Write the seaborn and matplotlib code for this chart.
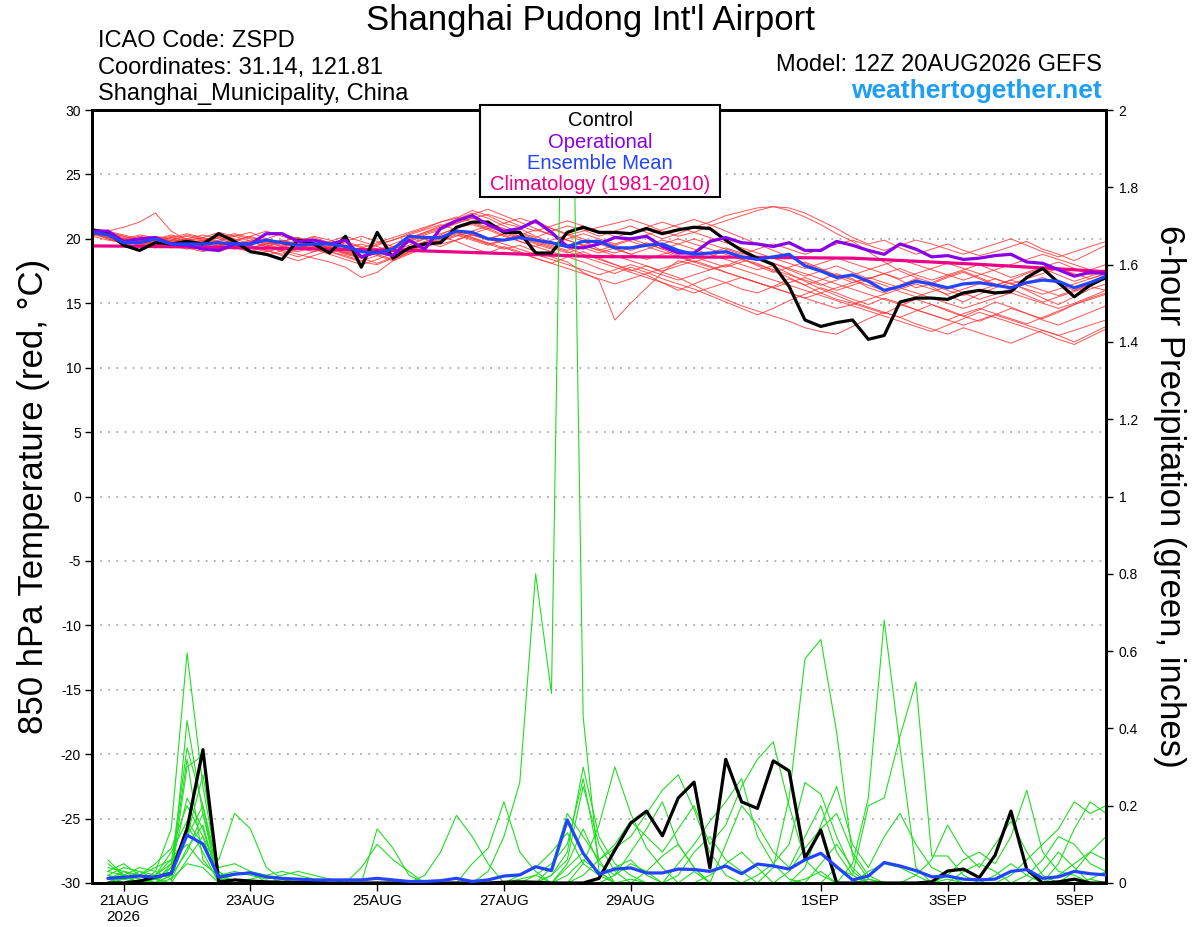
import numpy as np
import pandas as pd
import matplotlib
matplotlib.use('Agg')
import matplotlib.pyplot as plt
from matplotlib.patches import Rectangle
import seaborn as sns

# forecast steps (6-hourly from the 12Z 20AUG2026 run)
times = pd.date_range('2026-08-20 12:00', periods=65, freq='6h')
precip_times = times[1:]

# 850 hPa temperature (C)
control_t = [20.7, 20.5, 19.5, 19.1, 19.7, 19.6, 19.8, 19.6, 20.4, 19.8,
             19.0, 18.8, 18.4, 19.9, 19.6, 18.9, 20.2, 17.8, 20.5, 18.5,
             19.3, 19.6, 19.7, 20.9, 21.3, 21.3, 20.5, 20.5, 18.9, 18.9,
             20.5, 20.9, 20.5, 20.5, 20.4, 20.8, 20.4, 20.7, 20.9, 20.8,
             19.9, 19.1, 18.5, 18.0, 16.3, 13.7, 13.2, 13.5, 13.7, 12.2,
             12.5, 15.1, 15.4, 15.4, 15.3, 15.8, 16.0, 15.8, 15.9, 17.0,
             17.7, 16.6, 15.5, 16.4, 17.0]
operational_t = [20.6, 20.6, 19.8, 20.0, 20.1, 19.6, 19.5, 19.2, 19.1, 19.6,
                 19.6, 20.4, 20.4, 19.8, 19.9, 19.6, 19.9, 18.6, 19.0, 18.7,
                 19.9, 19.2, 20.8, 21.4, 21.8, 21.1, 20.6, 20.8, 21.4, 20.5,
                 19.4, 19.3, 19.6, 20.1, 20.0, 20.2, 19.4, 18.9, 18.9, 19.8,
                 20.1, 19.7, 19.6, 19.4, 19.7, 19.1, 19.1, 19.8, 19.5, 19.1,
                 18.8, 19.6, 19.2, 18.6, 18.7, 18.4, 18.5, 18.7, 18.8, 18.2,
                 18.1, 17.6, 17.1, 17.4, 17.3]
mean_t = [20.5, 20.3, 19.7, 19.7, 20.0, 19.6, 19.6, 19.6, 19.7, 19.6,
          19.6, 19.9, 19.7, 19.5, 19.6, 19.6, 19.4, 19.0, 18.9, 19.2,
          20.2, 20.1, 20.1, 20.6, 20.5, 20.0, 19.9, 20.1, 19.9, 19.7,
          19.4, 19.8, 19.8, 19.3, 19.3, 19.5, 19.6, 19.1, 18.8, 18.9,
          19.0, 18.6, 18.4, 18.6, 18.8, 17.9, 17.5, 17.0, 17.2, 16.7,
          16.0, 16.3, 16.7, 16.5, 16.2, 16.5, 16.6, 16.4, 16.2, 16.6,
          16.8, 16.7, 16.2, 16.6, 17.1]
climo_t = [19.45, 19.44, 19.43, 19.42, 19.40, 19.39, 19.37, 19.36, 19.34, 19.32,
           19.30, 19.28, 19.26, 19.24, 19.22, 19.20, 19.18, 19.16, 19.14, 19.12,
           19.10, 19.06, 19.02, 18.98, 18.94, 18.90, 18.86, 18.82, 18.78, 18.74,
           18.70, 18.66, 18.62, 18.61, 18.61, 18.60, 18.60, 18.59, 18.59, 18.58,
           18.58, 18.57, 18.56, 18.55, 18.54, 18.53, 18.52, 18.51, 18.50, 18.44,
           18.38, 18.32, 18.26, 18.20, 18.14, 18.08, 18.02, 17.95, 17.88, 17.81,
           17.74, 17.67, 17.60, 17.52, 17.45]

# 6-hour precipitation (inches)
control_p = [0.0, 0.0, 0.005, 0.015, 0.025, 0.14, 0.345, 0.003, 0.008, 0.005,
             0.003, 0.002, 0.002, 0.001, 0.0, 0.0, 0.0, 0.0, 0.0, 0.0,
             0.0, 0.0, 0.0, 0.0, 0.0, 0.002, 0.003, 0.002, 0.0, 0.0,
             0.0, 0.012, 0.085, 0.155, 0.186, 0.122, 0.22, 0.261, 0.039, 0.32,
             0.21, 0.193, 0.316, 0.29, 0.064, 0.137, 0.0, 0.0, 0.0, 0.0,
             0.0, 0.0, 0.003, 0.031, 0.036, 0.014, 0.072, 0.186, 0.035, 0.0,
             0.003, 0.01, 0.0, 0.0]
mean_p = [0.012, 0.015, 0.018, 0.015, 0.025, 0.124, 0.101, 0.015, 0.023, 0.026,
          0.016, 0.012, 0.01, 0.008, 0.008, 0.008, 0.008, 0.012, 0.008, 0.004,
          0.004, 0.006, 0.012, 0.004, 0.008, 0.018, 0.021, 0.042, 0.032, 0.163,
          0.077, 0.023, 0.036, 0.039, 0.026, 0.026, 0.036, 0.035, 0.03, 0.044,
          0.024, 0.049, 0.044, 0.036, 0.06, 0.077, 0.042, 0.008, 0.018, 0.053,
          0.044, 0.032, 0.016, 0.018, 0.01, 0.008, 0.01, 0.03, 0.035, 0.012,
          0.016, 0.03, 0.024, 0.021]

# ensemble members, temperature
red_members = [
    [20.5, 20.3, 20.0, 19.8, 20.1, 19.9, 19.7, 19.9, 20.2, 20.0, 19.6, 19.8, 19.5, 19.9, 20.1, 19.7, 19.4,
     19.0, 19.6, 19.9, 20.4, 20.8, 21.3, 21.6, 22.2, 21.8, 21.2, 20.9, 21.4, 20.8, 20.3, 20.6, 20.9,
     21.2, 21.5, 21.1, 20.6, 20.2, 20.5, 21.0, 21.4, 21.8, 22.2, 22.5, 22.4, 22.0, 21.4, 20.8, 20.1,
     19.6, 19.9, 19.3, 18.8, 19.2, 19.6, 19.1, 18.7, 19.0, 19.4, 19.8, 19.2, 18.8, 18.3, 18.9, 19.5],
    [20.6, 20.4, 20.1, 19.7, 19.5, 19.8, 20.0, 19.6, 19.3, 19.5, 19.9, 19.6, 19.2, 19.0, 19.4, 19.6, 19.1,
     18.6, 18.9, 19.3, 19.8, 20.2, 20.0, 20.5, 20.1, 19.6, 19.2, 19.5, 19.0, 18.6, 18.2, 17.4, 16.8,
     13.7, 15.0, 16.2, 17.4, 18.3, 18.0, 17.6, 17.9, 18.4, 18.1, 17.5, 17.0, 16.4, 16.8, 17.3, 16.9,
     16.2, 15.8, 16.4, 16.9, 16.3, 15.6, 15.1, 15.7, 16.2, 16.6, 16.0, 15.4, 14.9, 15.5, 16.1, 16.5],
    [20.4, 20.6, 20.9, 21.3, 22.0, 20.6, 19.9, 20.1, 19.8, 20.2, 20.5, 20.0, 19.6, 19.3, 19.7, 19.2, 18.8,
     18.5, 18.9, 19.4, 19.2, 19.7, 20.3, 20.9, 21.1, 20.7, 20.2, 19.8, 19.4, 19.9, 20.3, 19.8, 19.2,
     18.9, 19.3, 19.7, 19.2, 18.7, 18.2, 18.6, 19.1, 18.5, 17.9, 17.4, 17.8, 18.2, 17.7, 17.1, 16.6,
     16.9, 17.3, 16.8, 16.2, 16.5, 17.0, 17.4, 16.9, 16.4, 16.8, 17.3, 17.7, 17.2, 16.7, 17.1, 17.5],
    [20.7, 20.2, 19.8, 19.6, 19.9, 20.2, 19.8, 19.5, 19.9, 20.3, 20.0, 19.5, 19.1, 18.8, 18.5, 18.2, 17.8,
     17.0, 17.4, 18.3, 19.0, 19.6, 20.1, 20.6, 20.3, 19.9, 20.4, 20.8, 20.2, 19.7, 19.3, 18.8, 18.4,
     18.0, 17.6, 17.2, 16.6, 16.0, 16.5, 17.0, 16.6, 16.1, 15.8, 16.3, 16.9, 16.4, 15.8, 15.3, 15.0,
     14.6, 14.2, 14.8, 15.3, 14.9, 14.4, 14.0, 14.5, 15.1, 14.7, 14.2, 13.8, 14.3, 14.9, 15.4, 15.8],
    [20.3, 20.1, 19.9, 20.2, 20.0, 19.7, 19.4, 19.8, 20.1, 19.7, 19.3, 19.6, 19.9, 19.5, 19.2, 19.5, 19.8,
     19.4, 18.9, 19.3, 19.9, 20.5, 21.0, 21.5, 22.0, 21.6, 21.0, 20.5, 20.1, 20.6, 21.0, 20.7, 20.2,
     20.6, 21.0, 20.5, 20.0, 20.4, 20.9, 21.3, 21.8, 22.1, 22.4, 22.5, 22.2, 21.7, 21.1, 20.4, 19.8,
     19.0, 18.2, 17.5, 17.0, 16.6, 17.1, 17.5, 17.0, 16.5, 16.1, 16.6, 17.0, 16.5, 16.0, 16.4, 16.9],
    [20.5, 20.0, 19.6, 19.4, 19.7, 19.5, 19.2, 19.4, 19.8, 19.4, 19.0, 18.7, 19.1, 19.5, 19.2, 18.9, 19.3,
     19.6, 19.2, 18.8, 19.3, 19.8, 20.2, 19.8, 19.3, 18.9, 19.4, 19.0, 18.5, 18.1, 18.6, 18.2, 17.7,
     17.3, 17.8, 17.4, 16.9, 16.5, 16.1, 15.6, 15.1, 14.6, 14.1, 14.6, 15.2, 15.7, 16.2, 15.8, 15.3,
     14.9, 15.4, 15.0, 14.5, 14.1, 13.7, 14.2, 14.6, 14.2, 13.8, 13.4, 13.9, 14.4, 14.9, 15.3, 15.7],
    [20.6, 20.5, 20.2, 19.9, 19.6, 19.9, 20.3, 20.0, 19.6, 19.9, 20.2, 19.8, 19.4, 19.7, 19.3, 19.0, 18.7,
     18.3, 18.7, 19.2, 19.7, 20.0, 19.6, 19.9, 20.4, 20.8, 20.3, 19.8, 19.4, 19.0, 18.6, 19.0, 18.5,
     18.0, 17.5, 17.9, 17.4, 17.0, 16.4, 15.8, 15.3, 14.8, 14.4, 14.0, 13.6, 13.1, 12.8, 12.6, 13.2,
     13.8, 14.3, 13.9, 13.4, 13.0, 12.6, 13.1, 12.7, 12.3, 11.9, 12.4, 12.9, 12.5, 12.0, 12.6, 13.2],
    [20.4, 20.3, 20.0, 20.3, 20.1, 19.8, 19.5, 19.8, 20.1, 20.4, 20.1, 19.7, 19.4, 19.8, 20.2, 19.9, 19.5,
     19.1, 19.5, 19.9, 20.3, 20.7, 21.1, 20.7, 20.3, 20.0, 20.4, 20.0, 19.6, 19.2, 19.6, 19.3, 18.9,
     19.3, 18.8, 18.4, 18.8, 19.1, 18.6, 18.2, 17.8, 18.2, 18.6, 18.1, 17.6, 17.1, 17.5, 17.9, 17.4,
     16.9, 17.3, 17.7, 17.2, 16.8, 17.2, 17.6, 18.0, 17.5, 17.0, 17.4, 17.8, 18.2, 17.7, 17.2, 17.6],
    [20.8, 20.4, 19.9, 19.5, 19.3, 19.6, 19.9, 19.5, 19.2, 19.6, 19.3, 19.0, 19.3, 19.7, 19.4, 19.0, 18.6,
     18.2, 18.0, 18.5, 19.0, 19.5, 20.0, 20.4, 20.0, 19.6, 19.9, 20.3, 19.9, 19.5, 19.1, 19.5, 19.9,
     19.5, 19.1, 19.5, 19.9, 19.6, 19.2, 18.8, 18.4, 18.0, 17.6, 17.9, 17.3, 16.7, 16.1, 15.6, 15.1,
     14.7, 14.3, 13.9, 14.4, 14.9, 14.5, 14.0, 13.6, 14.1, 14.6, 14.2, 13.7, 13.3, 13.8, 14.3, 14.8],
    [20.5, 20.6, 20.3, 20.0, 19.8, 20.1, 20.4, 20.1, 19.7, 19.4, 19.7, 20.0, 19.7, 19.3, 19.0, 19.4, 19.8,
     20.2, 19.8, 19.4, 19.8, 20.3, 20.7, 21.2, 21.6, 21.2, 20.8, 20.4, 20.0, 19.6, 20.0, 20.4, 20.0,
     19.6, 20.0, 19.6, 19.2, 19.6, 20.0, 19.6, 19.2, 18.8, 19.2, 19.6, 19.2, 18.8, 19.2, 19.6, 19.9,
     19.5, 19.1, 19.5, 19.9, 19.6, 19.2, 18.8, 19.2, 19.6, 20.0, 19.5, 19.0, 18.6, 19.0, 19.4, 19.8],
    [20.2, 19.9, 19.7, 19.9, 20.2, 20.0, 19.7, 19.3, 19.5, 19.8, 19.5, 19.1, 18.8, 19.2, 19.6, 19.3, 18.9,
     18.6, 19.1, 19.6, 20.1, 20.5, 20.9, 21.4, 21.9, 22.3, 21.8, 21.3, 20.8, 20.3, 19.9, 19.5, 19.1,
     18.7, 18.3, 17.9, 17.5, 17.9, 18.3, 17.9, 17.4, 17.0, 16.6, 16.2, 16.6, 17.0, 16.5, 16.0, 16.4,
     16.8, 16.4, 15.9, 15.5, 15.9, 16.3, 15.8, 15.3, 15.7, 16.1, 15.6, 15.1, 15.5, 15.9, 16.3, 16.0],
    [20.6, 20.3, 19.9, 20.1, 19.8, 19.5, 19.8, 20.1, 20.5, 20.2, 19.8, 19.4, 19.8, 20.1, 19.7, 19.3, 19.7,
     19.3, 18.8, 18.4, 18.9, 19.4, 19.9, 20.3, 19.9, 19.5, 19.9, 20.3, 20.7, 20.3, 19.9, 19.5, 19.1,
     19.5, 19.9, 20.3, 20.7, 21.1, 21.5, 21.1, 20.6, 20.1, 19.6, 19.1, 18.6, 18.1, 17.6, 17.2, 16.8,
     16.4, 16.0, 16.4, 16.8, 16.4, 16.0, 15.6, 16.0, 16.4, 16.8, 16.4, 16.0, 15.6, 16.0, 16.5, 17.0],
    [20.4, 20.2, 19.8, 19.6, 19.4, 19.7, 20.0, 20.3, 20.0, 19.6, 19.3, 19.6, 19.9, 19.6, 19.2, 18.8, 18.4,
     18.0, 18.4, 18.9, 19.3, 19.7, 19.4, 19.9, 20.3, 20.0, 19.6, 19.2, 18.8, 18.4, 18.0, 17.6, 17.2,
     17.6, 18.0, 17.6, 17.2, 16.8, 17.2, 17.6, 18.0, 17.6, 17.2, 16.8, 16.4, 16.0, 15.6, 15.2, 14.8,
     14.4, 14.0, 13.6, 13.2, 12.8, 13.3, 13.8, 14.3, 13.9, 13.5, 13.1, 12.7, 12.2, 11.8, 12.4, 13.0],
    [20.5, 20.1, 19.6, 19.8, 20.0, 20.3, 20.0, 19.7, 19.4, 19.8, 20.2, 20.6, 20.2, 19.8, 19.4, 19.8, 20.2,
     19.8, 19.4, 19.0, 19.5, 20.0, 20.4, 20.8, 21.2, 20.8, 21.2, 21.6, 21.2, 20.8, 20.4, 20.0, 19.6,
     19.2, 18.8, 19.2, 19.6, 20.0, 19.6, 19.2, 18.8, 18.4, 18.0, 17.6, 17.2, 16.8, 16.4, 16.8, 17.2,
     17.6, 18.0, 18.4, 18.0, 17.6, 17.2, 16.8, 17.2, 17.6, 18.0, 18.4, 18.8, 18.4, 18.0, 17.6, 18.0],
    [20.7, 20.3, 20.0, 19.7, 19.9, 19.6, 19.3, 19.0, 19.4, 19.8, 19.5, 19.1, 18.7, 18.3, 18.7, 19.1, 19.5,
     19.1, 18.7, 18.3, 18.8, 19.3, 19.8, 20.2, 20.6, 21.0, 20.6, 20.2, 19.8, 19.4, 19.0, 18.6, 18.2,
     17.8, 17.4, 17.0, 16.6, 16.2, 15.8, 16.2, 16.6, 17.0, 16.6, 16.2, 15.8, 15.4, 15.8, 16.2, 16.6,
     17.0, 16.6, 16.2, 15.8, 15.4, 15.0, 14.6, 15.0, 15.4, 15.8, 15.4, 15.0, 14.6, 15.0, 15.5, 16.0],
    [20.3, 20.5, 20.2, 19.8, 19.5, 19.9, 20.2, 19.9, 19.5, 19.2, 19.6, 20.0, 20.4, 20.0, 19.6, 19.2, 18.9,
     19.3, 19.7, 20.1, 20.5, 20.9, 21.3, 21.7, 21.3, 20.9, 20.5, 20.1, 19.7, 19.3, 18.9, 19.3, 19.7,
     20.1, 20.5, 20.9, 21.3, 20.9, 20.5, 20.1, 19.7, 19.3, 18.9, 18.5, 18.1, 17.7, 18.1, 18.5, 18.1,
     17.7, 17.3, 16.9, 17.3, 17.7, 18.1, 17.7, 17.3, 16.9, 16.5, 16.9, 17.3, 17.7, 17.3, 16.9, 17.3],
    [20.6, 20.2, 19.8, 19.5, 19.8, 20.1, 19.8, 19.4, 19.0, 19.4, 19.8, 19.4, 19.0, 18.6, 19.0, 19.4, 19.0,
     18.6, 19.0, 19.4, 19.9, 20.4, 20.8, 21.2, 21.6, 21.9, 21.5, 21.0, 20.6, 21.0, 21.4, 21.0, 20.6,
     20.2, 19.8, 19.4, 19.0, 18.6, 18.2, 17.8, 17.4, 17.0, 16.6, 16.2, 15.8, 15.4, 15.0, 14.6, 14.9,
     15.3, 15.7, 16.1, 16.5, 16.1, 15.7, 16.1, 16.5, 16.9, 16.5, 16.1, 15.7, 16.1, 16.5, 16.9, 17.3],
    [20.4, 20.0, 19.7, 19.9, 19.6, 19.3, 19.6, 19.9, 19.6, 19.3, 19.0, 19.4, 19.8, 20.1, 19.7, 19.3, 18.9,
     18.5, 18.1, 18.6, 19.1, 19.6, 20.1, 20.5, 20.1, 19.7, 19.3, 18.9, 18.5, 18.1, 17.7, 17.3, 16.9,
     16.5, 16.9, 17.3, 17.7, 18.1, 18.5, 18.9, 19.3, 18.9, 18.5, 18.1, 17.7, 17.3, 16.9, 16.5, 16.1,
     15.7, 15.3, 14.9, 14.5, 14.1, 13.7, 13.3, 13.7, 14.1, 13.7, 13.3, 12.9, 12.5, 12.9, 13.3, 13.7],
]

# ensemble members, precipitation
green_members = [
    [0.02, 0.01, 0.0, 0.03, 0.14, 0.595, 0.25, 0.02, 0.0, 0.0,
     0.0, 0.01, 0.0, 0.0, 0.0, 0.0, 0.0, 0.0, 0.0, 0.0,
     0.0, 0.0, 0.0, 0.0, 0.0, 0.0, 0.01, 0.02, 0.0, 0.0,
     0.0, 0.0, 0.02, 0.05, 0.03, 0.0, 0.02, 0.08, 0.12, 0.06,
     0.03, 0.0, 0.04, 0.22, 0.58, 0.63, 0.39, 0.07, 0.01, 0.0,
     0.0, 0.0, 0.0, 0.01, 0.0, 0.0, 0.02, 0.05, 0.02, 0.0,
     0.0, 0.0, 0.01, 0.0],
    [0.01, 0.0, 0.0, 0.0, 0.02, 0.3, 0.33, 0.01, 0.0, 0.0,
     0.0, 0.0, 0.0, 0.0, 0.0, 0.0, 0.0, 0.0, 0.0, 0.0,
     0.0, 0.0, 0.0, 0.0, 0.03, 0.12, 0.26, 0.80, 0.49, 3.0,
     0.43, 0.03, 0.0, 0.01, 0.0, 0.0, 0.0, 0.0, 0.02, 0.05,
     0.08, 0.04, 0.0, 0.0, 0.0, 0.0, 0.0, 0.0, 0.01, 0.0,
     0.0, 0.0, 0.0, 0.0, 0.0, 0.0, 0.0, 0.0, 0.0, 0.03,
     0.08, 0.04, 0.0, 0.0],
    [0.0, 0.03, 0.02, 0.0, 0.05, 0.12, 0.2, 0.03, 0.0, 0.01,
     0.02, 0.0, 0.0, 0.0, 0.01, 0.0, 0.0, 0.0, 0.0, 0.0,
     0.0, 0.0, 0.0, 0.0, 0.0, 0.0, 0.0, 0.02, 0.05, 0.1,
     0.27, 0.06, 0.0, 0.0, 0.03, 0.07, 0.1, 0.04, 0.0, 0.0,
     0.0, 0.0, 0.0, 0.0, 0.01, 0.03, 0.0, 0.05, 0.22, 0.68,
     0.35, 0.04, 0.0, 0.0, 0.0, 0.0, 0.0, 0.0, 0.0, 0.0,
     0.0, 0.0, 0.01, 0.03],
    [0.05, 0.02, 0.01, 0.0, 0.04, 0.22, 0.14, 0.01, 0.02, 0.03,
     0.0, 0.0, 0.0, 0.0, 0.0, 0.0, 0.0, 0.14, 0.09, 0.02,
     0.0, 0.0, 0.0, 0.0, 0.0, 0.0, 0.0, 0.0, 0.0, 0.04,
     0.08, 0.02, 0.0, 0.0, 0.0, 0.0, 0.0, 0.03, 0.0, 0.0,
     0.0, 0.0, 0.0, 0.0, 0.0, 0.0, 0.04, 0.02, 0.2, 0.22,
     0.38, 0.52, 0.07, 0.07, 0.02, 0.0, 0.0, 0.0, 0.0, 0.0,
     0.02, 0.05, 0.08, 0.12],
    [0.03, 0.02, 0.0, 0.01, 0.0, 0.42, 0.18, 0.0, 0.0, 0.0,
     0.0, 0.0, 0.0, 0.0, 0.0, 0.0, 0.0, 0.0, 0.0, 0.0,
     0.0, 0.0, 0.0, 0.0, 0.0, 0.0, 0.0, 0.0, 0.04, 0.18,
     0.12, 0.06, 0.1, 0.16, 0.12, 0.08, 0.14, 0.2, 0.1, 0.15,
     0.25, 0.32, 0.365, 0.2, 0.06, 0.02, 0.0, 0.0, 0.0, 0.0,
     0.0, 0.0, 0.0, 0.0, 0.0, 0.0, 0.0, 0.0, 0.0, 0.0,
     0.0, 0.0, 0.0, 0.0],
    [0.01, 0.03, 0.02, 0.04, 0.06, 0.1, 0.05, 0.02, 0.03, 0.02,
     0.01, 0.02, 0.03, 0.02, 0.01, 0.0, 0.0, 0.0, 0.0, 0.0,
     0.02, 0.08, 0.175, 0.12, 0.05, 0.0, 0.0, 0.0, 0.0, 0.0,
     0.0, 0.0, 0.0, 0.0, 0.0, 0.0, 0.0, 0.0, 0.0, 0.0,
     0.0, 0.0, 0.0, 0.0, 0.0, 0.0, 0.0, 0.0, 0.0, 0.0,
     0.0, 0.0, 0.0, 0.02, 0.06, 0.08, 0.05, 0.12, 0.24, 0.08,
     0.03, 0.02, 0.0, 0.0],
    [0.0, 0.01, 0.02, 0.01, 0.03, 0.15, 0.08, 0.0, 0.0, 0.0,
     0.0, 0.0, 0.0, 0.0, 0.0, 0.0, 0.0, 0.0, 0.0, 0.0,
     0.0, 0.0, 0.0, 0.05, 0.09, 0.21, 0.08, 0.03, 0.0, 0.0,
     0.05, 0.15, 0.30, 0.18, 0.09, 0.04, 0.0, 0.0, 0.0, 0.0,
     0.0, 0.0, 0.0, 0.0, 0.0, 0.0, 0.0, 0.0, 0.0, 0.0,
     0.0, 0.0, 0.0, 0.0, 0.0, 0.0, 0.0, 0.0, 0.0, 0.0,
     0.05, 0.14, 0.21, 0.18],
    [0.02, 0.0, 0.0, 0.02, 0.08, 0.16, 0.1, 0.06, 0.18, 0.14,
     0.04, 0.01, 0.0, 0.0, 0.0, 0.0, 0.0, 0.0, 0.0, 0.0,
     0.0, 0.0, 0.0, 0.0, 0.0, 0.0, 0.0, 0.0, 0.0, 0.0,
     0.02, 0.06, 0.09, 0.12, 0.18, 0.24, 0.28, 0.19, 0.08, 0.02,
     0.0, 0.0, 0.0, 0.03, 0.09, 0.14, 0.18, 0.08, 0.02, 0.0,
     0.0, 0.0, 0.0, 0.0, 0.0, 0.0, 0.0, 0.0, 0.0, 0.0,
     0.0, 0.0, 0.0, 0.0],
    [0.04, 0.03, 0.01, 0.0, 0.01, 0.05, 0.04, 0.0, 0.0, 0.0,
     0.0, 0.0, 0.0, 0.0, 0.0, 0.0, 0.04, 0.1, 0.06, 0.03,
     0.0, 0.0, 0.0, 0.0, 0.0, 0.0, 0.0, 0.0, 0.0, 0.0,
     0.0, 0.0, 0.0, 0.0, 0.0, 0.0, 0.05, 0.1, 0.16, 0.21,
     0.27, 0.12, 0.05, 0.01, 0.0, 0.0, 0.0, 0.0, 0.0, 0.0,
     0.0, 0.0, 0.0, 0.0, 0.0, 0.0, 0.0, 0.0, 0.0, 0.0,
     0.0, 0.0, 0.0, 0.0],
    [0.01, 0.01, 0.03, 0.02, 0.06, 0.12, 0.28, 0.03, 0.0, 0.0,
     0.0, 0.0, 0.0, 0.0, 0.0, 0.0, 0.0, 0.0, 0.0, 0.0,
     0.0, 0.0, 0.0, 0.0, 0.0, 0.0, 0.0, 0.0, 0.0, 0.0,
     0.0, 0.0, 0.0, 0.0, 0.0, 0.0, 0.0, 0.0, 0.0, 0.0,
     0.0, 0.02, 0.05, 0.1, 0.26, 0.23, 0.12, 0.03, 0.0, 0.0,
     0.0, 0.0, 0.0, 0.0, 0.0, 0.0, 0.0, 0.02, 0.06, 0.1,
     0.14, 0.21, 0.18, 0.2],
    [0.0, 0.0, 0.02, 0.05, 0.09, 0.2, 0.12, 0.0, 0.0, 0.0,
     0.0, 0.0, 0.0, 0.0, 0.0, 0.0, 0.0, 0.0, 0.0, 0.0,
     0.0, 0.0, 0.0, 0.0, 0.0, 0.0, 0.0, 0.0, 0.0, 0.02,
     0.06, 0.03, 0.0, 0.0, 0.0, 0.0, 0.0, 0.0, 0.0, 0.0,
     0.0, 0.0, 0.0, 0.0, 0.04, 0.15, 0.25, 0.1, 0.04, 0.12,
     0.18, 0.1, 0.04, 0.02, 0.0, 0.0, 0.0, 0.0, 0.0, 0.0,
     0.0, 0.0, 0.0, 0.0],
    [0.02, 0.04, 0.03, 0.01, 0.04, 0.32, 0.06, 0.01, 0.0, 0.0,
     0.0, 0.0, 0.0, 0.0, 0.0, 0.0, 0.0, 0.0, 0.0, 0.0,
     0.0, 0.0, 0.0, 0.0, 0.0, 0.0, 0.0, 0.0, 0.0, 0.0,
     0.0, 0.0, 0.0, 0.0, 0.0, 0.0, 0.0, 0.0, 0.0, 0.0,
     0.0, 0.0, 0.0, 0.0, 0.0, 0.0, 0.0, 0.0, 0.0, 0.0,
     0.0, 0.02, 0.06, 0.15, 0.08, 0.04, 0.1, 0.16, 0.08, 0.02,
     0.0, 0.03, 0.08, 0.06],
    [0.0, 0.0, 0.0, 0.0, 0.02, 0.08, 0.18, 0.02, 0.0, 0.0,
     0.0, 0.0, 0.0, 0.0, 0.0, 0.0, 0.0, 0.0, 0.0, 0.0,
     0.0, 0.0, 0.0, 0.0, 0.0, 0.0, 0.0, 0.0, 0.0, 0.05,
     0.14, 0.05, 0.02, 0.08, 0.14, 0.21, 0.1, 0.04, 0.0, 0.1,
     0.2, 0.15, 0.08, 0.04, 0.12, 0.2, 0.08, 0.02, 0.0, 0.0,
     0.0, 0.0, 0.0, 0.0, 0.0, 0.0, 0.0, 0.0, 0.0, 0.0,
     0.0, 0.0, 0.0, 0.0],
    [0.03, 0.05, 0.02, 0.0, 0.0, 0.06, 0.12, 0.04, 0.05, 0.03,
     0.02, 0.03, 0.02, 0.01, 0.0, 0.0, 0.0, 0.0, 0.0, 0.0,
     0.0, 0.0, 0.0, 0.0, 0.0, 0.0, 0.02, 0.04, 0.08, 0.13,
     0.05, 0.02, 0.04, 0.06, 0.02, 0.0, 0.0, 0.0, 0.0, 0.0,
     0.0, 0.0, 0.0, 0.0, 0.0, 0.0, 0.0, 0.0, 0.03, 0.05,
     0.04, 0.02, 0.0, 0.0, 0.0, 0.0, 0.0, 0.0, 0.02, 0.06,
     0.12, 0.1, 0.05, 0.03],
    [0.06, 0.02, 0.04, 0.03, 0.01, 0.09, 0.15, 0.0, 0.0, 0.0,
     0.0, 0.0, 0.0, 0.0, 0.0, 0.0, 0.0, 0.0, 0.0, 0.0,
     0.0, 0.0, 0.0, 0.0, 0.0, 0.0, 0.0, 0.0, 0.02, 0.06,
     0.25, 0.1, 0.03, 0.0, 0.0, 0.0, 0.0, 0.0, 0.0, 0.0,
     0.0, 0.0, 0.0, 0.0, 0.0, 0.05, 0.1, 0.04, 0.0, 0.0,
     0.0, 0.0, 0.0, 0.0, 0.0, 0.0, 0.0, 0.0, 0.0, 0.0,
     0.0, 0.0, 0.0, 0.0],
    [0.01, 0.02, 0.0, 0.02, 0.05, 0.35, 0.2, 0.01, 0.0, 0.0,
     0.0, 0.0, 0.0, 0.0, 0.0, 0.0, 0.0, 0.0, 0.0, 0.0,
     0.0, 0.0, 0.0, 0.0, 0.0, 0.0, 0.0, 0.0, 0.02, 0.08,
     0.3, 0.12, 0.05, 0.02, 0.0, 0.0, 0.0, 0.0, 0.0, 0.0,
     0.0, 0.0, 0.0, 0.0, 0.0, 0.0, 0.0, 0.0, 0.0, 0.0,
     0.0, 0.0, 0.0, 0.0, 0.03, 0.05, 0.03, 0.0, 0.0, 0.0,
     0.0, 0.0, 0.0, 0.0],
]

tick_dates = ['2026-08-21', '2026-08-23', '2026-08-25', '2026-08-27',
              '2026-08-29', '2026-09-01', '2026-09-03', '2026-09-05']
tick_labels = ['21AUG\n2026', '23AUG', '25AUG', '27AUG', '29AUG', '1SEP', '3SEP', '5SEP']
temp_ticks = [-30, -25, -20, -15, -10, -5, 0, 5, 10, 15, 20, 25, 30]
precip_ticks = [0, 0.2, 0.4, 0.6, 0.8, 1.0, 1.2, 1.4, 1.6, 1.8, 2.0]
precip_labels = ['0', '0.2', '0.4', '0.6', '0.8', '1', '1.2', '1.4', '1.6', '1.8', '2']

legend_items = [('Control', 'black'),
                ('Operational', '#8a00e6'),
                ('Ensemble Mean', '#2244ff'),
                ('Climatology (1981-2010)', '#ee0088')]

sns.set_style('ticks')
plt.rcParams['font.family'] = ['Liberation Sans', 'DejaVu Sans']
plt.rcParams['text.color'] = 'black'
plt.rcParams['axes.labelcolor'] = 'black'
plt.rcParams['xtick.color'] = 'black'
plt.rcParams['ytick.color'] = 'black'

# long tables for the spaghetti members
red_df = pd.DataFrame({
    'time': np.tile(times, len(red_members)),
    'temp': np.concatenate(red_members),
    'member': np.repeat(np.arange(len(red_members)), len(times)),
})
green_df = pd.DataFrame({
    'time': np.tile(precip_times, len(green_members)),
    'precip': np.concatenate(green_members),
    'member': np.repeat(np.arange(len(green_members)), len(precip_times)),
})

fig = plt.figure(figsize=(12, 9.27), dpi=100)
ax = fig.add_axes([92 / 1200, 44 / 927, 1014 / 1200, 773 / 927])
ax2 = ax.twinx()

# temperature panel
sns.lineplot(data=red_df, x='time', y='temp', units='member', estimator=None,
             color='#ff3535', lw=0.7, alpha=0.85, ax=ax, legend=False, zorder=2)
sns.lineplot(x=times, y=climo_t, color='#ee0088', lw=2.3, ax=ax, zorder=3)
sns.lineplot(x=times, y=control_t, color='black', lw=2.3, ax=ax, zorder=4)
sns.lineplot(x=times, y=operational_t, color='#8a00e6', lw=2.3, ax=ax, zorder=5)
sns.lineplot(x=times, y=mean_t, color='#2244ff', lw=2.3, ax=ax, zorder=6)

# precipitation panel
sns.lineplot(data=green_df, x='time', y='precip', units='member', estimator=None,
             color='#22dd22', lw=0.8, ax=ax2, legend=False, zorder=2)
sns.lineplot(x=precip_times, y=control_p, color='black', lw=2.3, ax=ax2, zorder=4)
sns.lineplot(x=precip_times, y=mean_p, color='#2244ff', lw=2.3, ax=ax2, zorder=5)

ax.set_xlim(times[0], times[-1])
ax.set_ylim(-30, 30)
ax2.set_ylim(0, 2)

ax.set_yticks(temp_ticks)
ax.set_yticklabels([str(t) for t in temp_ticks], fontsize=10)
ax2.set_yticks(precip_ticks)
ax2.set_yticklabels(precip_labels, fontsize=10)
ax.set_xticks(pd.to_datetime(tick_dates))
ax.set_xticklabels(tick_labels, fontsize=11, linespacing=1.2)
ax.tick_params(axis='x', length=6, width=1, pad=2, colors='black')
ax.tick_params(axis='y', length=5, width=1, pad=3, colors='black')
ax2.tick_params(axis='y', length=5, width=1, pad=4, colors='black')

ax.yaxis.grid(True, linestyle=(0, (1, 3.5)), color='#aaaaaa', lw=1.3)
ax.set_axisbelow(True)

for a in (ax, ax2):
    for s in a.spines.values():
        s.set_linewidth(2.0)
        s.set_color('black')

ax.set_xlabel('')
ax.set_ylabel('850 hPa Temperature (red, °C)', fontsize=25, color='black')
ax.yaxis.set_label_coords(-0.058, 0.5)
ax.yaxis.label.set_verticalalignment('center')
ax2.set_ylabel('6-hour Precipitation (green, inches)', fontsize=25, rotation=270, color='black')
ax2.yaxis.set_label_coords(1.063, 0.5)
ax2.yaxis.label.set_verticalalignment('center')

# legend box
ax2.add_patch(Rectangle((0.3826, 0.8874), 0.2367, 0.1191, transform=ax2.transAxes,
                        facecolor='white', edgecolor='black', lw=1.5,
                        clip_on=False, zorder=10))
for (label, col), ypos in zip(legend_items, [0.9858, 0.9586, 0.9314, 0.9030]):
    ax2.text(0.501, ypos, label, color=col, fontsize=14.5, ha='center', va='center',
             transform=ax2.transAxes, zorder=11)

# header texts
fig.text(0.4917, 1 - 30 / 927, "Shanghai Pudong Int'l Airport", fontsize=25,
         ha='center', va='baseline', color='black')
fig.text(98 / 1200, 1 - 47 / 927, 'ICAO Code: ZSPD', fontsize=17, va='baseline', color='black')
fig.text(98 / 1200, 1 - 74 / 927, 'Coordinates: 31.14, 121.81', fontsize=17, va='baseline',
         color='black')
fig.text(98 / 1200, 1 - 100 / 927, 'Shanghai_Municipality, China', fontsize=17, va='baseline',
         color='black')
fig.text(1102 / 1200, 1 - 71 / 927, 'Model: 12Z 20AUG2026 GEFS', fontsize=17,
         ha='right', va='baseline', color='black')
fig.text(1102 / 1200, 1 - 98 / 927, 'weathertogether.net', fontsize=19, fontweight='bold',
         color='#1e9ef4', ha='right', va='baseline')

fig.savefig('out.png', dpi=100)
